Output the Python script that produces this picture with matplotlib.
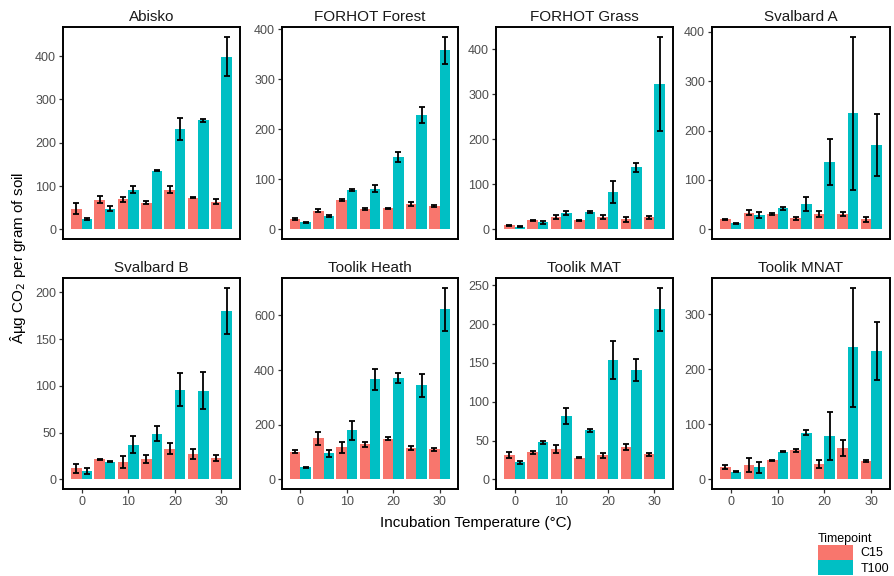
import numpy as np
import matplotlib

matplotlib.use("Agg")
import matplotlib.pyplot as plt
from matplotlib.patches import Patch

plt.rcParams["font.family"] = ["Liberation Sans", "DejaVu Sans"]

temps = [0, 5, 10, 15, 20, 25, 30]
sites = [
    "Abisko", "FORHOT Forest", "FORHOT Grass", "Svalbard A",
    "Svalbard B", "Toolik Heath", "Toolik MAT", "Toolik MNAT",
]
timepoints = ["C15", "T100"]
colors = {"C15": "#F8766D", "T100": "#00BFC4"}

# mean respiration per site / timepoint / temperature
c15_mean = {
    "Abisko": [48, 68, 69, 62, 92, 73, 64],
    "FORHOT Forest": [21, 37, 59, 41, 42, 51, 46],
    "FORHOT Grass": [9, 20, 27, 20, 27, 22, 27],
    "Svalbard A": [20, 34, 32, 22, 32, 32, 20],
    "Svalbard B": [12, 21.4, 18.6, 22, 33, 27, 23],
    "Toolik Heath": [102, 150, 117, 128, 149, 116, 110],
    "Toolik MAT": [31, 35, 39, 28, 31, 41.6, 32.6],
    "Toolik MNAT": [22, 26, 35, 53, 28, 57, 33],
}
c15_err = {
    "Abisko": [12, 8, 6, 3, 7, 1, 6],
    "FORHOT Forest": [1.5, 3, 2, 2, 1.5, 4, 2],
    "FORHOT Grass": [1, 1.5, 4, 1, 4, 6, 3],
    "Svalbard A": [1.5, 5, 2, 4, 6, 4, 5],
    "Svalbard B": [5, 0.5, 6, 4, 6, 5, 3],
    "Toolik Heath": [5, 23, 20, 8, 5, 7, 5],
    "Toolik MAT": [4, 2, 5, 1, 3, 4, 2],
    "Toolik MNAT": [4, 12, 1, 3, 8, 15, 2],
}
t100_mean = {
    "Abisko": [24, 48, 92, 135, 231, 252, 399],
    "FORHOT Forest": [14, 27, 79, 81, 144, 229, 358],
    "FORHOT Grass": [6, 16, 36, 38, 83, 138, 323],
    "Svalbard A": [12, 30, 43, 51, 136, 235, 170],
    "Svalbard B": [9, 19, 37, 49, 96, 95, 180],
    "Toolik Heath": [44, 95, 179, 366, 370, 344, 622],
    "Toolik MAT": [22, 48, 81.5, 63.5, 153.6, 140.8, 219],
    "Toolik MNAT": [14, 22, 50, 85, 79, 240, 233],
}
t100_err = {
    "Abisko": [3, 6, 9, 1, 25, 3, 46],
    "FORHOT Forest": [1, 2, 2, 7, 10, 16, 27],
    "FORHOT Grass": [1, 3, 4, 2, 25, 10, 105],
    "Svalbard A": [1, 6, 3, 14, 46, 155, 63],
    "Svalbard B": [3, 0.5, 9, 8, 18, 20, 25],
    "Toolik Heath": [3, 13, 33, 39, 18, 41, 80],
    "Toolik MAT": [2, 2, 10, 2, 24, 14, 28],
    "Toolik MNAT": [1, 10, 1, 5, 44, 108, 53],
}
yticks = {
    "Abisko": [0, 100, 200, 300, 400],
    "FORHOT Forest": [0, 100, 200, 300, 400],
    "FORHOT Grass": [0, 100, 200, 300, 400],
    "Svalbard A": [0, 100, 200, 300, 400],
    "Svalbard B": [0, 50, 100, 150, 200],
    "Toolik Heath": [0, 200, 400, 600],
    "Toolik MAT": [0, 50, 100, 150, 200, 250],
    "Toolik MNAT": [0, 100, 200, 300],
}

W, H = 894, 576
col_left = [63, 282, 496, 712]
col_right = [240, 458, 673, 890]
row_top = [27, 278]
row_bot = [239, 489]

fig = plt.figure(figsize=(W / 100, H / 100), dpi=100)

group_w = 4.5
bar_w = group_w / 2
x = np.array(temps, dtype=float)
xmin, xmax = x.min() - group_w / 2, x.max() + group_w / 2
xpad = 0.05 * (xmax - xmin)

for i, site in enumerate(sites):
    r, c = divmod(i, 4)
    l, rt = col_left[c], col_right[c]
    t, b = row_top[r], row_bot[r]
    ax = fig.add_axes([l / W, 1 - b / H, (rt - l) / W, (b - t) / H])

    series = {
        "C15": (np.array(c15_mean[site]), np.array(c15_err[site])),
        "T100": (np.array(t100_mean[site]), np.array(t100_err[site])),
    }
    for k, tp in enumerate(timepoints):
        m, e = series[tp]
        xs = x + (k - 0.5) * bar_w
        ax.bar(xs, m, width=bar_w, color=colors[tp], linewidth=0, zorder=2)
        ax.errorbar(xs, m, yerr=e, fmt="none", ecolor="black", elinewidth=1.3,
                    capsize=2.2, capthick=1.3, zorder=3)

    top = max((series[tp][0] + series[tp][1]).max() for tp in timepoints)
    ypad = 0.05 * top
    ax.set_ylim(-ypad, top + ypad)
    ax.set_xlim(xmin - xpad, xmax + xpad)
    ax.set_yticks(yticks[site])
    ax.set_xticks([0, 10, 20, 30])

    for sp in ax.spines.values():
        sp.set_linewidth(1.4)
        sp.set_color("black")
    ax.tick_params(axis="both", direction="out", length=3, width=0.9,
                   colors="#333333", labelcolor="#4D4D4D", labelsize=9, pad=2)
    if r == 0:
        ax.tick_params(axis="x", bottom=False, labelbottom=False)
    ax.set_title(site, fontsize=11, color="#1A1A1A", pad=4)

fig.text(18 / W, 1 - 258 / H, "Âµg CO$_2$ per gram of soil", rotation=90,
         ha="center", va="center", fontsize=11)
fig.text(476 / W, 1 - 523 / H, "Incubation Temperature (°C)",
         ha="center", va="center", fontsize=11)

handles = [Patch(facecolor=colors[tp], edgecolor="none", label=tp) for tp in timepoints]
leg = fig.legend(handles=handles, title="Timepoint", loc="upper left",
                 bbox_to_anchor=(809 / W, 1 - 524 / H), frameon=False,
                 fontsize=9, title_fontsize=9, handlelength=2.8, handleheight=1.5,
                 labelspacing=0.0, handletextpad=0.6, borderpad=0.2)
leg._legend_box.align = "left"

fig.savefig("out.png", dpi=100)
